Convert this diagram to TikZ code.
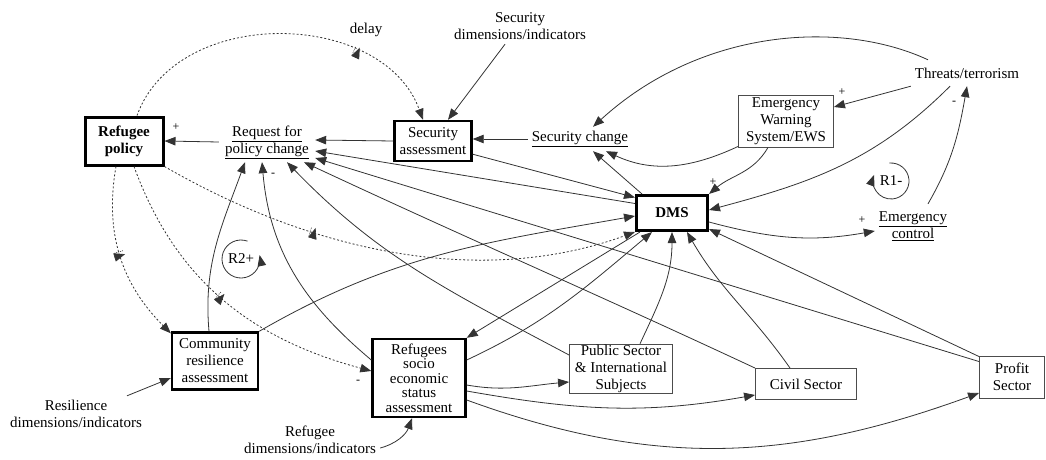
\documentclass[tikz,border=0pt]{standalone}
\usepackage{fontspec}
\setmainfont{Liberation Serif}
\usetikzlibrary{arrows.meta,decorations.markings}
\newcommand\boldfnt{\fontsize{15}{17}\selectfont\bfseries}
\begin{document}
\begin{tikzpicture}[x=1pt,y=1pt,
  every node/.style={font=\fontsize{15}{17}\selectfont, align=center, inner sep=1pt, text=black},
  txt/.style={},
  boxA/.style={draw=black, line width=3pt},
  boxB/.style={draw=black, line width=2.4pt},
  boxC/.style={draw=black!70, line width=0.9pt},
  sgn/.style={font=\fontsize{12}{14}\selectfont, inner sep=0pt},
  arr/.style={draw=black!80, line width=0.8pt, -{Triangle[length=11pt,width=8.5pt]}},
  dotarr/.style={arr, dash pattern=on 2pt off 2pt},
  dmark/.style={postaction={decorate}, decoration={markings, mark=at position #1 with {\draw[black!80, line width=0.6pt, dash pattern=on 1pt off 1pt] (-2pt,-5pt) -- (-2pt,5pt) (2pt,-5pt) -- (2pt,5pt);}}}
]
\useasboundingbox (0,0) rectangle (1046,459);

% nodes
\node[boxA, minimum width=78pt, minimum height=48pt, font=\boldfnt] (refpol) at (124,318) {Refugee\\policy};
\node[txt, minimum width=96pt, minimum height=40pt] (request) at (267,317) {\underline{Request for}\\\underline{policy change}};
\node[boxB, minimum width=77pt, minimum height=40pt] (secass) at (433,318) {Security\\assessment};
\node[txt, minimum width=104pt, minimum height=24pt] (secchg) at (580,320) {\underline{Security change}};
\node[txt, minimum height=36pt] (secdim) at (520,433) {Security\\dimensions/indicators};
\node[txt] (delay) at (366,429) {delay};
\node[boxC, minimum width=95pt, minimum height=52pt] (ews) at (786,338) {Emergency\\Warning\\System/EWS};
\node[txt, minimum width=112pt, minimum height=26pt] (threats) at (967,386) {Threats/terrorism};
\node[boxA, minimum width=71pt, minimum height=35pt, font=\boldfnt] (dms) at (672,246) {DMS};
\node[txt, minimum width=76pt, minimum height=44pt] (emctrl) at (913,233) {\underline{Emergency}\\\underline{control}};
\node[boxB, minimum width=86pt, minimum height=57pt] (comm) at (215,98) {Community\\resilience\\assessment};
\node[txt, minimum height=36pt] (resdim) at (76,45) {Resilience\\dimensions/indicators};
\node[txt, minimum width=140pt, minimum height=36pt] (refdim) at (310,19) {Refugee\\dimensions/indicators};
\node[boxB, minimum width=93pt, minimum height=78pt, font=\fontsize{15}{14.5}\selectfont] (refsoc) at (419,81) {Refugees\\socio\\economic\\status\\assessment};
\node[boxC, minimum width=103pt, minimum height=49pt] (pubsec) at (621,90) {Public Sector\\\& International\\Subjects};
\node[boxC, minimum width=101pt, minimum height=31pt] (civil) at (806,75) {Civil Sector};
\node[boxC, minimum width=65pt, minimum height=42pt] (profit) at (1012,82) {Profit\\Sector};

% loops
\node (r1) at (891,278) {R1-};
\draw[arr] ([shift={(95:18pt)}]r1.center) arc[start angle=95, end angle=-200, radius=18pt];
\node (r2) at (241,200) {R2+};
\draw[arr] ([shift={(70:19pt)}]r2.center) arc[start angle=70, end angle=372, radius=19pt];

% signs
\node[sgn] (s1) at (176,332) {+};
\node[sgn] (s2) at (273,284) {-};
\node[sgn] (s3) at (358,77) {-};
\node[sgn] (s4) at (842,367) {+};
\node[sgn] (s5) at (713,277) {+};
\node[sgn] (s6) at (954,356) {-};
\node[sgn] (s7) at (862,239) {+};

% connectors
\draw[arr] (request.west) -- (refpol.east);
\draw[arr] (secass.west) -- ([yshift=2pt]request.east);
\draw[arr] (secchg.west) -- ([yshift=2pt]secass.east);
\draw[arr] ([xshift=-15pt]secdim.south) -- ([xshift=15pt]secass.north);
\draw[dotarr, dmark=0.72] ([xshift=13pt]refpol.north) to[out=70,in=110,looseness=1.05] ([xshift=-10pt]secass.north);
\draw[dotarr, dmark=0.48] ([xshift=-8pt]refpol.south) to[out=-100,in=135] ([yshift=-2pt]comm.north west);
\draw[dotarr, dmark=0.48] ([xshift=10pt]refpol.south) to[out=-70,in=165] ([yshift=7pt]refsoc.west);
\draw[dotarr, dmark=0.33] (refpol.south east) to[out=-30,in=200,looseness=0.9] (dms.south west);
\draw[arr] ([xshift=-6pt]comm.north) to[out=95,in=250] ([xshift=-22pt]request.south);
\draw[arr] ([yshift=18pt]refsoc.west) to[out=140,in=275] ([xshift=-5pt]request.south);
\draw[arr] ([yshift=14pt]pubsec.west) to[out=152,in=-46] ([xshift=20pt]request.south);
\draw[arr] (civil.north west) to[out=155,in=-25] ([xshift=37pt]request.south);
\draw[arr] ([yshift=-6pt]profit.north west) -- ([yshift=-16pt]request.east);
\draw[arr] ([yshift=-9.5pt]dms.north west) -- ([yshift=-9pt]request.east);
\draw[arr] ([yshift=8pt]secass.south east) -- ([yshift=-3.5pt]dms.north west);
\draw[arr] (comm.north east) to[out=30,in=190] ([yshift=-3pt]dms.west);
\draw[arr] ([xshift=7pt]dms.north west) -- ([xshift=13pt]secchg.south);
\draw[arr] ([yshift=1pt]ews.south west) to[out=205,in=-25] ([xshift=26pt]secchg.south);
\draw[arr] ([xshift=-39pt]threats.north) .. controls (840,440) and (700,430) .. ([xshift=13pt]secchg.north);
\draw[arr] (threats.south west) -- ([yshift=14pt]ews.east);
\draw[arr] ([xshift=-17pt]threats.south) to[out=225,in=15] ([yshift=3pt]dms.east);
\draw[arr] ([xshift=15pt]emctrl.north) to[out=60,in=-100] (threats.south);
\draw[arr] ([yshift=-9pt]dms.east) to[out=-15,in=190] ([yshift=-5pt]emctrl.west);
\draw[arr] ([xshift=-18pt]ews.south) to[out=240,in=40] (dms.north east);
\draw[arr] ([xshift=5pt]dms.south west) -- (refsoc.north east);
\draw[arr] ([yshift=18pt]refsoc.east) to[out=25,in=220] ([xshift=-20pt]dms.south);
\draw[arr] ([xshift=19pt]pubsec.north) to[out=65,in=-90] (dms.south);
\draw[arr] ([xshift=-16pt]civil.north) to[out=125,in=-60] ([xshift=15pt]dms.south);
\draw[arr] ([yshift=-1pt]profit.north west) -- ([yshift=3pt]dms.south east);
\draw[arr] ([yshift=-7pt]refsoc.east) to[out=-10,in=185] ([yshift=-13pt]pubsec.west);
\draw[arr] ([yshift=-13pt]refsoc.east) to[out=-10,in=190] ([yshift=-11pt]civil.west);
\draw[arr] ([yshift=-22pt]refsoc.east) to[out=-20,in=200] ([yshift=-16pt]profit.west);
\draw[arr] ([yshift=-8pt]refdim.east) to[out=15,in=250] ([xshift=-7pt]refsoc.south);
\draw[arr] ([xshift=51pt]resdim.north) -- ([yshift=-17pt]comm.west);
\end{tikzpicture}
\end{document}
